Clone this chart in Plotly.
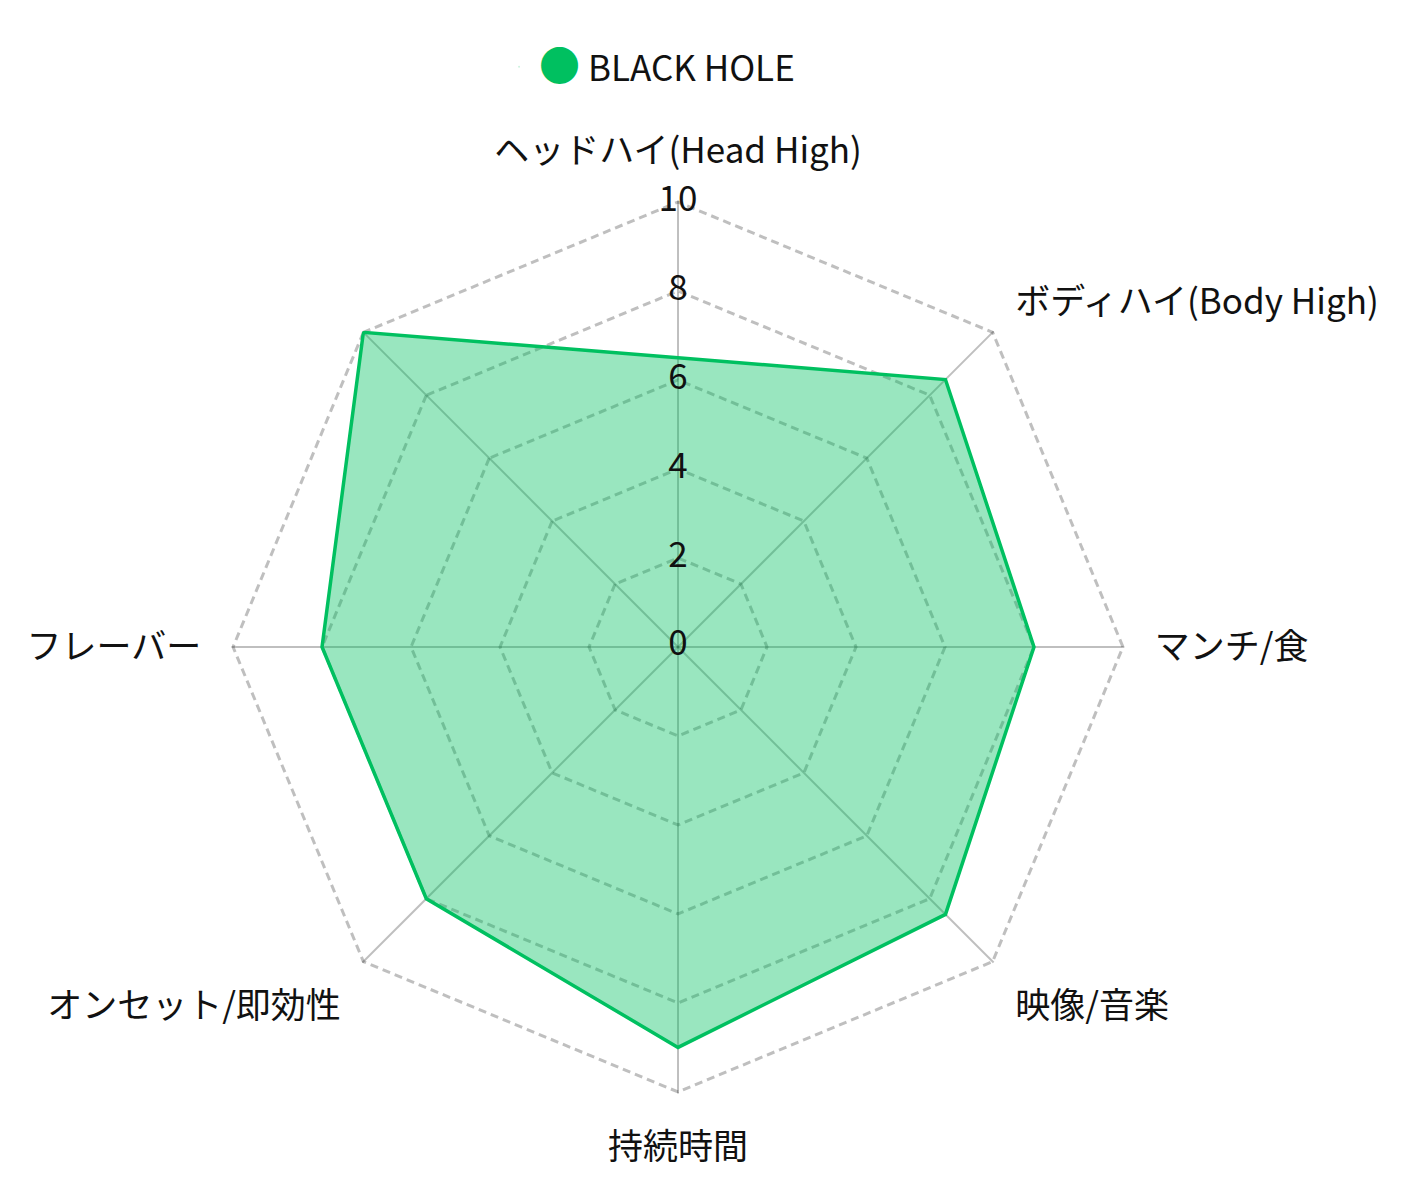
import plotly.graph_objects as go

# axes clockwise from the top; the top-left spoke has no label
categories = ["ヘッドハイ(Head High)", "ボディハイ(Body High)", "マンチ/食", "映像/音楽",
              "持続時間", "オンセット/即効性", "フレーバー", " "]
values = [6.5, 8.5, 8.0, 8.5, 9.0, 8.0, 8.0, 10.0]
series_name = "BLACK HOLE"
radial_ticks = [0, 2, 4, 6, 8, 10]
radial_labels = ["0", "2", "4", "6", "8", "10"]

green = "#00c060"
font_family = "Noto Sans CJK JP"

fig = go.Figure()

fig.add_trace(go.Scatterpolar(
    r=values + values[:1],
    theta=categories + categories[:1],
    mode="lines",
    fill="toself",
    fillcolor="rgba(0,192,96,0.4)",
    line=dict(color=green, width=3.5),
    showlegend=False,
    hoverinfo="skip",
))

# radial tick labels, centred on the top spoke
# (plotly drops points exactly at r=0 on a polygon grid, so nudge that one a hair)
label_r = [max(t, 0.02) for t in radial_ticks]
fig.add_trace(go.Scatterpolar(
    r=label_r,
    theta=[categories[0]] * len(radial_ticks),
    mode="text",
    text=radial_labels,
    textposition="middle center",
    textfont=dict(size=35, family=font_family, color="#111"),
    cliponaxis=False,
    showlegend=False,
    hoverinfo="skip",
))

# legend entry only (big dot drawn in the label, plotly caps legend marker size)
fig.add_trace(go.Scatterpolar(
    r=[None], theta=[categories[0]],
    mode="markers",
    marker=dict(color=green, size=1, opacity=0),
    name='<span style="color:%s;font-size:41px">●</span> %s' % (green, series_name),
    showlegend=True,
))

fig.update_layout(
    width=1410, height=1182,
    margin=dict(l=0, r=0, t=0, b=0),
    paper_bgcolor="white",
    plot_bgcolor="white",
    font=dict(family=font_family, size=35, color="#111"),
    showlegend=True,
    legend=dict(
        orientation="h",
        x=0.455, xanchor="center",
        y=0.95, yanchor="middle",
        itemwidth=30,
        font=dict(size=35, family=font_family),
        bgcolor="rgba(0,0,0,0)",
    ),
    polar=dict(
        domain=dict(x=[0.15866, 0.79171], y=[0.08184, 0.83700]),
        bgcolor="white",
        gridshape="linear",
        radialaxis=dict(
            range=[0, 10.03],
            tickvals=radial_ticks,
            showticklabels=False,
            angle=90,
            showline=False,
            ticks="",
            gridcolor="rgba(0,0,0,0.25)",
            gridwidth=2.5,
            griddash="8px,5px",
            layer="above traces",
        ),
        angularaxis=dict(
            direction="clockwise",
            rotation=90,
            showline=False,
            gridcolor="rgba(0,0,0,0.25)",
            gridwidth=2,
            ticks="outside",
            ticklen=23,
            tickcolor="rgba(0,0,0,0)",
            tickfont=dict(size=35, family=font_family, color="#111"),
            layer="above traces",
        ),
    ),
)

fig.write_html("out.html")
